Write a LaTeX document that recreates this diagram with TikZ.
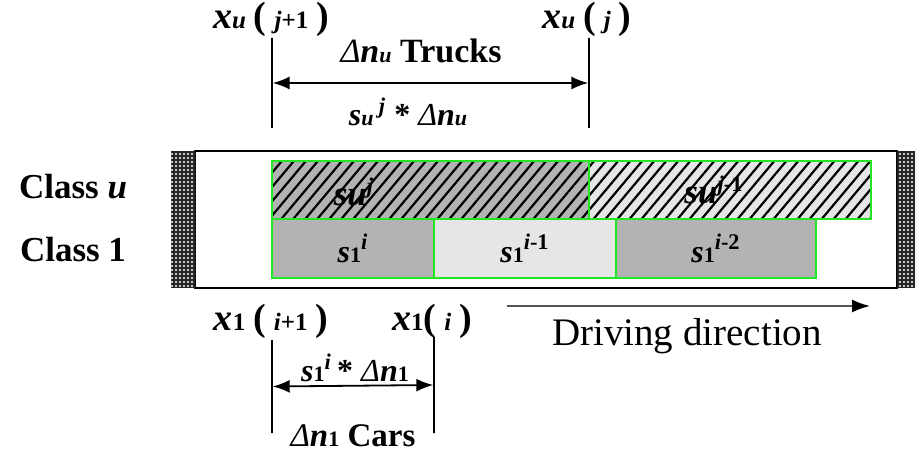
\documentclass[tikz,border=0pt]{standalone}
\usepackage{fontspec}
\setmainfont{Liberation Serif}
\usetikzlibrary{arrows.meta,patterns,patterns.meta}
\definecolor{cellDark}{HTML}{B3B3B3}
\definecolor{cellLight}{HTML}{E6E6E6}
\definecolor{cellEdge}{HTML}{22E622}
\definecolor{lineGray}{HTML}{555555}
\newcommand{\bi}[1]{\textbf{\textit{#1}}}
\newcommand{\subsz}{\fontsize{11}{11}\selectfont}
\newcommand{\possz}{\fontsize{12.5}{12.5}\selectfont}
\newcommand{\bigx}{\fontsize{19}{19}\selectfont}

\begin{document}
\begin{tikzpicture}[
  x=0.5pt, y=-0.5pt,
  every node/.style={font=\fontsize{16}{18}\selectfont, inner sep=0pt},
  carbox/.style={rectangle, draw=cellEdge, line width=0.6pt, minimum height=29.5pt},
  truckbox/.style={carbox, minimum height=29pt, preaction={fill=#1},
                   pattern={Lines[angle=50,distance=4.6pt,line width=1.1pt]}},
  endblock/.style={rectangle, minimum height=68.5pt, preaction={fill=black!85},
                   pattern={Dots[distance=2pt,radius=0.55pt]}, pattern color=white!80},
  road/.style={rectangle, draw, line width=1.1pt, minimum width=351pt, minimum height=68.5pt},
  tick/.style={rectangle, draw, line width=0.7pt, minimum width=0pt},
  dimarr/.style={{Latex[length=8.5pt,width=6.5pt]}-{Latex[length=8.5pt,width=6.5pt]}, line width=0.9pt},
  classlbl/.style={font=\fontsize{17.5}{20}\selectfont\bfseries},
  cntlbl/.style={font=\fontsize{16}{18}\selectfont}
]
\useasboundingbox (0,0) rectangle (915,454);

% ---- road with end blocks ----
\node[road] (road) at (546,219.5) {};
\node[endblock, minimum width=12pt] (blockL) at (183,219.5) {};
\node[endblock, minimum width=9pt] (blockR) at (906,219.5) {};

% ---- Class u: trucks ----
\node[truckbox=cellDark, minimum width=158.5pt] (truckJ) at (430.5,190) {};
\node[truckbox=cellLight, minimum width=141pt] (truckJm) at (730,190) {};
\node[cntlbl] (lblJ) at (354,192) {{\fontsize{17.5}{17}\selectfont\bi{su}}\textsuperscript{\bi{j}}};
\node[cntlbl] (lblJm) at (714,190) {{\fontsize{17.5}{17}\selectfont\bi{su}}\textsuperscript{\bi{j}\textbf{-1}}};

% ---- Class 1: cars ----
\node[carbox, fill=cellDark, minimum width=81pt] (carI) at (353,248.5)
  {\bi{s}{\subsz\textbf{1}}\textsuperscript{\bi{i}}};
\node[carbox, fill=cellLight, minimum width=91pt] (carIm) at (525,248.5)
  {\bi{s}{\subsz\textbf{1}}\textsuperscript{\bi{i}\textbf{-1}}};
\node[carbox, fill=cellDark, minimum width=100pt] (carImm) at (716,248.5)
  {\bi{s}{\subsz\textbf{1}}\textsuperscript{\bi{i}\textbf{-2}}};

\node[classlbl] (classU) at (73,187) {Class \textit{u}};
\node[classlbl] (classOne) at (73,250) {Class 1};

% ---- truck headway (top) ----
\node[tick, minimum height=45pt] (tickUL) at (272,83) {};
\node[tick, minimum height=45pt] (tickUR) at (589,83) {};
\draw[dimarr] (tickUL) -- (tickUR);
\node (xuL) at (271,19) {{\bigx\bi{x}}{\possz\bi{u}} {\bigx\textbf{(}} {\possz\bi{j}\textbf{+1}} {\bigx\textbf{)}}};
\node (xuR) at (587,19) {{\bigx\bi{x}}{\possz\bi{u}} {\bigx\textbf{(}} {\possz\bi{j}} {\bigx\textbf{)}}};
\node[cntlbl, font=\fontsize{17}{19}\selectfont] (trucks) at (421,51) {\textit{Δ}\bi{n}{\subsz\bi{u}} \textbf{Trucks}};
\node[cntlbl] (spaceU) at (408,112) {\bi{s}{\subsz\bi{u}}\,\textsuperscript{\bi{j}} \textbf{*} \textit{Δ}\bi{n}{\subsz\bi{u}}};

% ---- car headway (bottom) ----
\node[tick, minimum height=46.5pt] (tickCL) at (272,386.5) {};
\node[tick, minimum height=48pt] (tickCR) at (434,385) {};
\draw[dimarr] (tickCL) -- (tickCR);
\node (x1L) at (271,321) {{\bigx\bi{x}}{\possz\textbf{1}} {\bigx\textbf{(}} {\possz\bi{i}\textbf{+1}} {\bigx\textbf{)}}};
\node (x1R) at (432,321) {{\bigx\bi{x}}{\possz\textbf{1}}{\bigx\textbf{(}} {\possz\bi{i}} {\bigx\textbf{)}}};
\node[cntlbl] (spaceOne) at (355,368) {\bi{s}{\subsz\textbf{1}}\textsuperscript{\bi{i}}\,\textbf{*} \textit{Δ}\bi{n}{\subsz\textbf{1}}};
\node[cntlbl, font=\fontsize{16.5}{18}\selectfont] (cars) at (353,436) {\textit{Δ}\bi{n}{\subsz\textbf{1}} \textbf{Cars}};

% ---- driving direction ----
\coordinate (driveA) at (507,306);
\coordinate (driveB) at (870,306);
\draw[lineGray, line width=0.9pt, -{Latex[length=9pt,width=6.5pt,black]}] (driveA) -- (driveB);
\node[font=\fontsize{19.5}{22}\selectfont] (driveTxt) at (687,336) {Driving direction};

\end{tikzpicture}
\end{document}
